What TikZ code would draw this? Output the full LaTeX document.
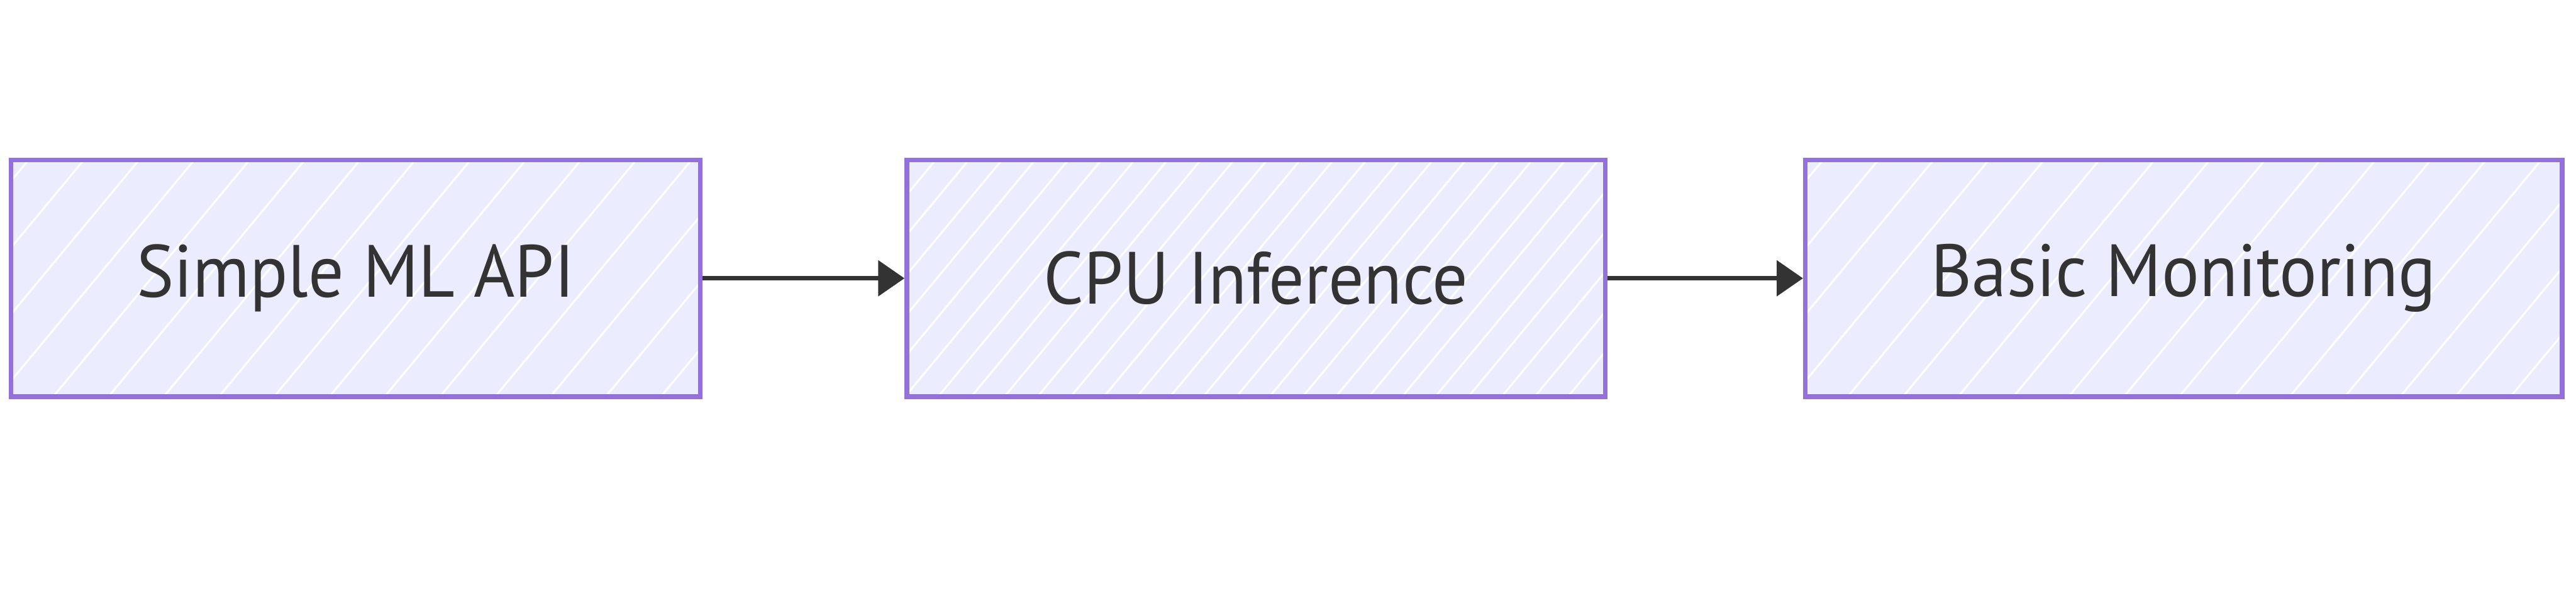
\documentclass[tikz,border=0pt]{standalone}
\usepackage{fontspec}
\setmainfont[FakeStretch=0.95]{PT Sans}
\usetikzlibrary{arrows.meta, positioning}
\definecolor{flowfill}{HTML}{ECECFF}
\definecolor{flowline}{HTML}{9370DB}
\definecolor{flowtext}{HTML}{333333}

% weisse Schraffur im Inneren eines Kastens
\newcommand{\hatchlines}[1]{%
    \foreach \k in {0,...,#1}
        \draw[white, line width=0.9pt]
            ([xshift=-4cm+\k*17cm/#1]path picture bounding box.south west)
            -- ++(3.4,4.1);}

\begin{document}
\begin{tikzpicture}[
        x=1cm,
        y=1cm,
        flowbox/.style={
            draw=flowline,
            line width=2.3pt,
            fill=flowfill,
            text=flowtext,
            font=\fontsize{36}{42}\selectfont,
            minimum height=4.05cm,
            inner xsep=2.15cm,
            path picture={\hatchlines{#1}}
        },
        flowbox/.default=18,
        flowarrow/.style={
            draw=flowtext,
            line width=2.3pt,
            -{Triangle[length=0.45cm, width=0.6cm]}
        }
    ]

        \fill[white] (0,0) rectangle (44.04,10.36);
        \useasboundingbox (0,0) rectangle (44.04,10.36);

        % Kaesten
        \node[flowbox] (api) at (6.08,5.60) {Simple ML API};
        \node[flowbox=30, minimum width=11.94cm, right=3.45cm of api] (cpu)
            {CPU Inference};
        \node[flowbox, right=3.34cm of cpu] (mon) {Basic Monitoring};

        % Pfeile
        \draw[flowarrow] (api) -- (cpu);
        \draw[flowarrow] (cpu) -- (mon);

    \end{tikzpicture}
\end{document}
